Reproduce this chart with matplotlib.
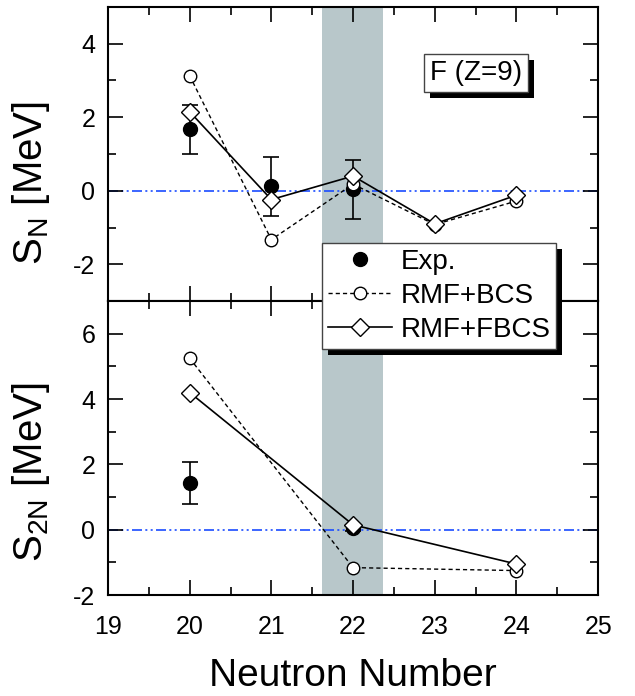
import matplotlib
matplotlib.use('Agg')
import matplotlib.pyplot as plt
from matplotlib.ticker import MultipleLocator
from matplotlib.lines import Line2D
import matplotlib.patheffects as pe

plt.rcParams['font.family'] = ['Liberation Sans', 'DejaVu Sans']
plt.rcParams['mathtext.fontset'] = 'custom'
plt.rcParams['mathtext.rm'] = 'Liberation Sans'
plt.rcParams['mathtext.it'] = 'Liberation Sans:italic'
plt.rcParams['axes.unicode_minus'] = False

# ---- data (MeV) ----
n_top = [20, 21, 22, 23, 24]
exp_top_n = [20, 21, 22]
exp_top = [1.67, 0.12, 0.04]
exp_top_err = [0.67, 0.80, 0.80]
bcs_top = [3.13, -1.33, 0.18, -0.92, -0.28]
fbcs_top = [2.15, -0.24, 0.40, -0.90, -0.12]

n_bot = [20, 22, 24]
exp_bot_n = [20, 22]
exp_bot = [1.44, 0.05]
exp_bot_err = [0.64, 0.10]
bcs_bot = [5.25, -1.16, -1.25]
fbcs_bot = [4.20, 0.15, -1.05]

band = (21.62, 22.37)

fig = plt.figure(figsize=(6.35, 6.96), dpi=100)
ax1 = fig.add_axes([0.170, 0.5675, 0.772, 0.4225])
ax2 = fig.add_axes([0.170, 0.145, 0.772, 0.4225])

dashdotdot = (0, (6, 2, 1.2, 2, 1.2, 2))
bcs_ls = (0, (3, 2.2))


def draw_panel(ax, n, en, e, ee, bcs, fbcs):
    ax.axvspan(band[0], band[1], color='#b8c7ca', lw=0, zorder=0)
    ax.axhline(0, color='#1a4cff', lw=1.2, ls=dashdotdot, zorder=1)
    ax.errorbar(en, e, yerr=ee, fmt='o', color='k', ms=10, capsize=5.8,
                elinewidth=1.2, capthick=1.2, zorder=2)
    ax.plot(n, bcs, color='k', lw=1.0, ls=bcs_ls, marker='o', ms=9,
            mfc='w', mec='k', mew=1.0, zorder=3)
    ax.plot(n, fbcs, color='k', lw=1.2, ls='-', marker='D', ms=9,
            mfc='w', mec='k', mew=1.0, zorder=4)
    ax.set_xlim(19, 25)
    ax.xaxis.set_major_locator(MultipleLocator(1))
    ax.xaxis.set_minor_locator(MultipleLocator(0.5))
    ax.yaxis.set_major_locator(MultipleLocator(2))
    ax.yaxis.set_minor_locator(MultipleLocator(1))
    ax.tick_params(which='both', direction='in', top=True, right=True, width=1.2)
    ax.tick_params(which='major', length=11, labelsize=18)
    ax.tick_params(axis='y', which='major', pad=9)
    ax.tick_params(axis='x', which='major', pad=14)
    ax.tick_params(which='minor', length=5.5)
    for s in ax.spines.values():
        s.set_linewidth(1.5)


draw_panel(ax1, n_top, exp_top_n, exp_top, exp_top_err, bcs_top, fbcs_top)
draw_panel(ax2, n_bot, exp_bot_n, exp_bot, exp_bot_err, bcs_bot, fbcs_bot)

ax1.set_ylim(-3, 5)
ax2.set_ylim(-2, 7)
ax1.tick_params(labelbottom=False)

ax1.set_ylabel(r'S$_{\rm N}$ [MeV]', fontsize=29)
ax2.set_ylabel(r'S$_{\rm 2N}$ [MeV]', fontsize=29)
ax1.yaxis.set_label_coords(-0.115, 0.40)
ax2.yaxis.set_label_coords(-0.115, 0.418)
ax2.set_xlabel('Neutron Number', fontsize=28)
ax2.xaxis.set_label_coords(0.5, -0.215)

shadow = [pe.SimplePatchShadow(offset=(4.3, -4.3), shadow_rgbFace='k', alpha=1.0),
          pe.Normal()]

t = ax1.text(0.751, 0.7755, 'F (Z=9)', transform=ax1.transAxes, fontsize=20,
             ha='center', va='center',
             bbox=dict(boxstyle='square,pad=0.2', fc='w', ec='#444444', lw=1.0))
t.get_bbox_patch().set_path_effects(shadow)

handles = [
    Line2D([], [], ls='none', marker='o', color='k', ms=10),
    Line2D([], [], ls=bcs_ls, color='k', lw=1.0, marker='o', ms=9, mfc='w', mec='k'),
    Line2D([], [], ls='-', color='k', lw=1.2, marker='D', ms=9, mfc='w', mec='k'),
]
labels = ['Exp.', 'RMF+BCS', 'RMF+FBCS']
leg = fig.legend(handles, labels, loc='upper left', bbox_to_anchor=(322 / 635, 1 - 243 / 696),
                 borderaxespad=0, fontsize=20, frameon=True, fancybox=False,
                 handlelength=2.3, handletextpad=0.3, labelspacing=0.28,
                 borderpad=0.22, numpoints=1)
frame = leg.get_frame()
frame.set_edgecolor('#444444')
frame.set_linewidth(1.0)
frame.set_alpha(1)
frame.set_path_effects(shadow)

fig.savefig('out.png', dpi=100)
